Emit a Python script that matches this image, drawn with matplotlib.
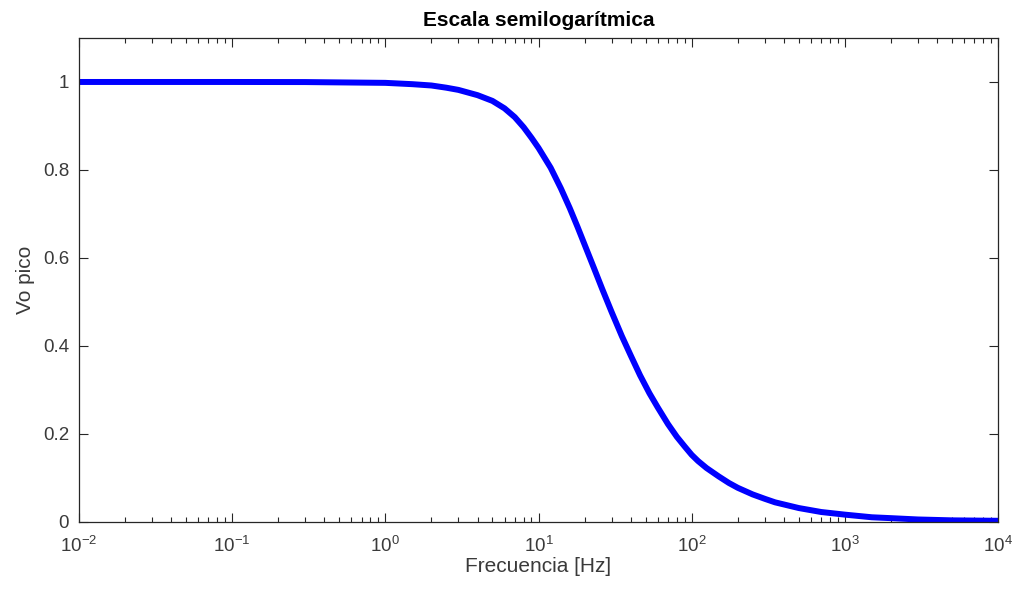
import matplotlib
matplotlib.use("Agg")
import matplotlib.pyplot as plt
from matplotlib.ticker import LogLocator, FixedLocator, FixedFormatter

plt.rcParams["font.family"] = ["Liberation Sans", "DejaVu Sans"]
plt.rcParams["mathtext.fontset"] = "custom"
plt.rcParams["mathtext.rm"] = "Liberation Sans"
plt.rcParams["axes.unicode_minus"] = False

# frequency [Hz] and peak output voltage
freq = [0.01, 0.03, 0.1, 0.3, 1, 1.5, 2, 2.5, 3, 4, 5, 6, 7, 8, 9, 10, 12, 14, 16,
        18, 20, 23, 26, 30, 35, 40, 46, 53, 60, 70, 80, 90, 100, 110, 125, 150, 175,
        200, 250, 300, 350, 500, 700, 1000, 1500, 2000, 3000, 5000, 10000]
vo_pico = [1.0, 1.0, 1.0, 0.9998, 0.998, 0.995, 0.992, 0.987, 0.982, 0.970, 0.957,
           0.940, 0.920, 0.897, 0.873, 0.850, 0.805, 0.758, 0.713, 0.670, 0.630,
           0.577, 0.530, 0.477, 0.422, 0.378, 0.333, 0.292, 0.260, 0.222, 0.193,
           0.171, 0.152, 0.138, 0.122, 0.103, 0.088, 0.077, 0.062, 0.052, 0.044,
           0.031, 0.022, 0.016, 0.010, 0.008, 0.005, 0.003, 0.002]

y_ticks = [0, 0.2, 0.4, 0.6, 0.8, 1]
y_labels = ["0", "0.2", "0.4", "0.6", "0.8", "1"]

TXT = "#3a3a3a"

fig = plt.figure(figsize=(10.15, 5.92), dpi=100, facecolor="white")
ax = fig.add_axes([0.0778, 0.1188, 0.9055, 0.817])

ax.semilogx(freq, vo_pico, color="#0000ff", linewidth=4.3, solid_capstyle="butt")

ax.set_xlim(1e-2, 1e4)
ax.set_ylim(0, 1.1)

ax.xaxis.set_major_locator(LogLocator(base=10, numticks=10))
ax.xaxis.set_minor_locator(LogLocator(base=10, subs=range(2, 10), numticks=20))
ax.yaxis.set_major_locator(FixedLocator(y_ticks))
ax.yaxis.set_major_formatter(FixedFormatter(y_labels))

ax.tick_params(which="both", direction="in", top=True, right=True, colors="#262626",
               labelcolor=TXT, labelsize=13.5, width=0.8)
ax.tick_params(which="major", length=6.5)
ax.tick_params(axis="x", which="major", pad=10)
ax.tick_params(axis="y", which="major", pad=7)
ax.tick_params(which="minor", length=3.5)
for s in ax.spines.values():
    s.set_linewidth(0.9)
    s.set_color("#262626")

ax.set_title("Escala semilogarítmica", fontsize=15, fontweight="bold", color="black", pad=9)
ax.set_xlabel("Frecuencia [Hz]", fontsize=15, color=TXT, labelpad=1)
ax.set_ylabel("Vo pico", fontsize=15, color=TXT, labelpad=6)

fig.savefig("out.png", dpi=100, facecolor="white")
